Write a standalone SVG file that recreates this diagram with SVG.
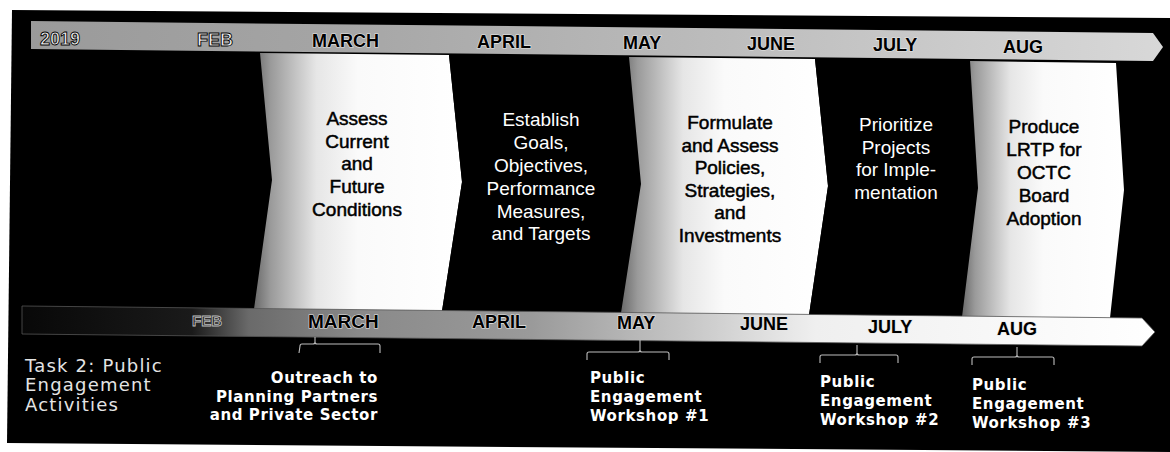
<svg xmlns="http://www.w3.org/2000/svg" width="1170" height="452" viewBox="0 0 1170 452">
<style>
.mon{font-family:"Liberation Sans",Arial,sans-serif;font-weight:bold;font-size:18px;fill:#000;stroke:#e6e6e6;stroke-width:1.2px;paint-order:stroke}
.monL{font-family:"Liberation Sans",Arial,sans-serif;font-weight:bold;font-size:18px;fill:#f2f2f2;stroke:#000;stroke-width:0.9px}
.ct{font-family:"Liberation Sans",Arial,sans-serif;font-size:19px;text-anchor:middle}
.dk{fill:#000;stroke:#000;stroke-width:0.5px}
.lt{fill:#fff}
.note{font-family:"DejaVu Sans",Verdana,sans-serif;font-weight:bold;font-size:15px;fill:#fff;letter-spacing:0.6px}
.task{font-family:"DejaVu Sans",Verdana,sans-serif;font-size:18px;fill:#e4e4e4;letter-spacing:1.2px}
.br{fill:none;stroke:#bdbdbd;stroke-width:1.1}
</style>
<defs>
<linearGradient id="gTop" x1="0" y1="0" x2="1" y2="0">
<stop offset="0" stop-color="#9a9a9a"/>
<stop offset="0.25" stop-color="#a4a4a4"/>
<stop offset="0.55" stop-color="#b8b8b8"/>
<stop offset="1" stop-color="#d8d8d8"/>
</linearGradient>
<linearGradient id="gBot" x1="0" y1="0" x2="1" y2="0">
<stop offset="0" stop-color="#080808"/>
<stop offset="0.15" stop-color="#1a1a1a"/>
<stop offset="0.2" stop-color="#6a6a6a"/>
<stop offset="0.3" stop-color="#8a8a8a"/>
<stop offset="0.45" stop-color="#9a9a9a"/>
<stop offset="0.58" stop-color="#c4c4c4"/>
<stop offset="0.7" stop-color="#efefef"/>
<stop offset="1" stop-color="#ffffff"/>
</linearGradient>
<linearGradient id="gChev" x1="0" y1="0" x2="1" y2="0">
<stop offset="0" stop-color="#6a6a6a"/>
<stop offset="0.08" stop-color="#9a9a9a"/>
<stop offset="0.3" stop-color="#e6e6e6"/>
<stop offset="0.5" stop-color="#fafafa"/>
<stop offset="1" stop-color="#ffffff"/>
</linearGradient>
</defs>
<rect x="0" y="0" width="1170" height="452" fill="#fff"/>
<polygon points="12,10 1170,18 1170,452 7,443" fill="#000"/>

<g id="timeline-top">
<polygon points="31,21 1153,33 1163,47 1153,61 31,49" fill="url(#gTop)"/>
<text class="monL" x="40" y="45">2019</text>
<text class="monL" x="197" y="46">FEB</text>
<text class="mon" x="312" y="47">MARCH</text>
<text class="mon" x="477" y="48">APRIL</text>
<text class="mon" x="623" y="49">MAY</text>
<text class="mon" x="747" y="50">JUNE</text>
<text class="mon" x="873" y="51">JULY</text>
<text class="mon" x="1003" y="53">AUG</text>
</g>

<g id="step1-assess">
<polygon points="260,53 449,55 462,182 442,311 254,309 272,180" fill="url(#gChev)"/>
<text class="ct dk" x="357"><tspan x="357" y="125">Assess</tspan><tspan x="357" y="148">Current</tspan><tspan x="357" y="170">and</tspan><tspan x="357" y="193">Future</tspan><tspan x="357" y="216">Conditions</tspan></text>
</g>

<g id="step2-establish">
<polygon points="449,55 629,57 641,184 621,313 442,311 462,182" fill="#000"/>
<text class="ct lt" x="541"><tspan x="541" y="126">Establish</tspan><tspan x="541" y="149">Goals,</tspan><tspan x="541" y="172">Objectives,</tspan><tspan x="541" y="195">Performance</tspan><tspan x="541" y="218">Measures,</tspan><tspan x="541" y="240">and Targets</tspan></text>
</g>

<g id="step3-formulate">
<polygon points="629,57 815,59 828,186 809,315 621,313 641,184" fill="url(#gChev)"/>
<text class="ct dk" x="730"><tspan x="730" y="129">Formulate</tspan><tspan x="730" y="152">and Assess</tspan><tspan x="730" y="174">Policies,</tspan><tspan x="730" y="197">Strategies,</tspan><tspan x="730" y="219">and</tspan><tspan x="730" y="242">Investments</tspan></text>
</g>

<g id="step4-prioritize">
<polygon points="815,59 970,61 978,188 962,317 809,315 828,186" fill="#000"/>
<text class="ct lt" x="896"><tspan x="896" y="131">Prioritize</tspan><tspan x="896" y="154">Projects</tspan><tspan x="896" y="176">for Imple-</tspan><tspan x="896" y="199">mentation</tspan></text>
</g>

<g id="step5-produce">
<polygon points="970,61 1116,63 1124,190 1110,318 962,317 978,188" fill="url(#gChev)"/>
<text class="ct dk" x="1044"><tspan x="1044" y="133">Produce</tspan><tspan x="1044" y="156">LRTP for</tspan><tspan x="1044" y="179">OCTC</tspan><tspan x="1044" y="202">Board</tspan><tspan x="1044" y="225">Adoption</tspan></text>
</g>

<g id="timeline-bottom">
<polygon points="22,306 1142,318 1155,332 1142,346 22,334" fill="url(#gBot)" stroke="#555" stroke-width="0.8"/>
<text class="monL" x="192" y="326" style="font-size:15px;fill:#222;stroke:#bbb;stroke-width:0.9px">FEB</text>
<text class="mon" x="308" y="328" style="font-size:19px">MARCH</text>
<text class="mon" x="472" y="328">APRIL</text>
<text class="mon" x="617" y="329">MAY</text>
<text class="mon" x="740" y="330">JUNE</text>
<text class="mon" x="868" y="333">JULY</text>
<text class="mon" x="997" y="335">AUG</text>
</g>

<g id="connectors">
<path class="br" d="M299,353 L300,346 Q300,344 302,344 L313,344 Q315,344 315,342 L315,337 M315,342 Q315,344 317,344 L378,344 Q380,344 380,346 L380,353"/>
<path class="br" d="M587,360 L587,354 Q587,352 589,352 L638,352 Q640,352 640,350 L640,340 M640,350 Q640,352 642,352 L667,352 Q669,352 669,354 L669,360"/>
<path class="br" d="M820,363 L820,357 Q820,355 822,355 L855,355 Q857,355 857,353 L857,345 M857,353 Q857,355 859,355 L896,355 Q898,355 898,357 L898,363"/>
<path class="br" d="M972,365 L972,359 Q972,357 974,357 L1015,357 Q1017,357 1017,355 L1017,347 M1017,355 Q1017,357 1019,357 L1052,357 Q1054,357 1054,359 L1054,365"/>
</g>

<g id="task2-label">
<text class="task"><tspan x="25" y="372">Task 2: Public</tspan><tspan x="25" y="391">Engagement</tspan><tspan x="25" y="411">Activities</tspan></text>
</g>

<g id="outreach">
<text class="note" text-anchor="end"><tspan x="378" y="383">Outreach to</tspan><tspan x="378" y="402">Planning Partners</tspan><tspan x="378" y="420">and Private Sector</tspan></text>
</g>

<g id="workshop1">
<text class="note"><tspan x="590" y="383">Public</tspan><tspan x="590" y="402">Engagement</tspan><tspan x="590" y="421">Workshop #1</tspan></text>
</g>

<g id="workshop2">
<text class="note"><tspan x="820" y="387">Public</tspan><tspan x="820" y="406">Engagement</tspan><tspan x="820" y="425">Workshop #2</tspan></text>
</g>

<g id="workshop3">
<text class="note"><tspan x="972" y="390">Public</tspan><tspan x="972" y="409">Engagement</tspan><tspan x="972" y="428">Workshop #3</tspan></text>
</g>
</svg>
